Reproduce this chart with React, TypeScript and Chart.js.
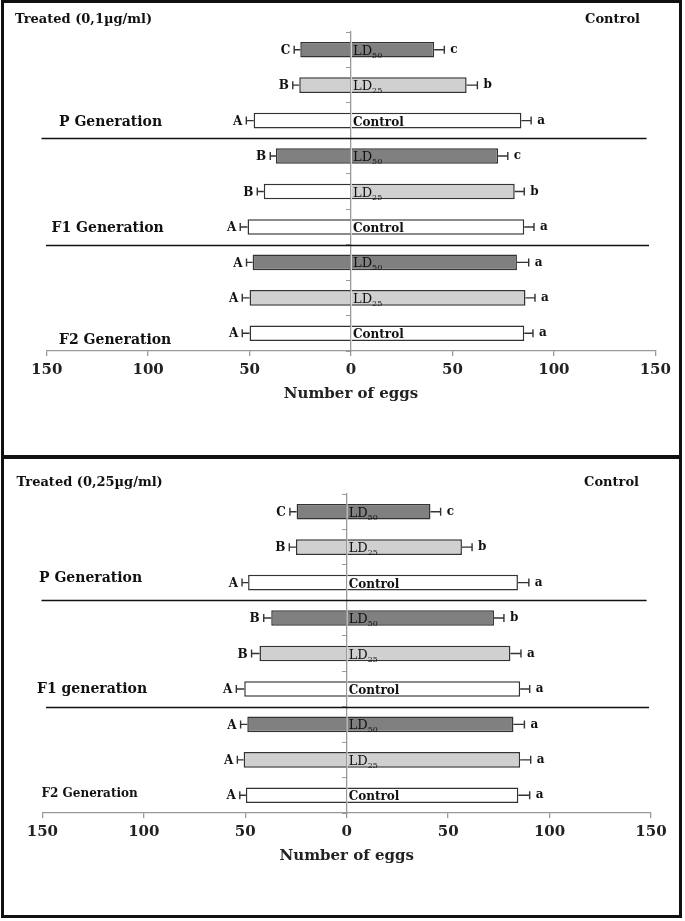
import React, { useEffect, useRef } from 'react';
import { Chart, registerables } from 'chart.js';
Chart.register(...registerables);

// ---------- data ----------
const rowLabels = ['LD50', 'LD25', 'Control', 'LD50', 'LD25', 'Control', 'LD50', 'LD25', 'Control'];
const xTickValues = [-150, -100, -50, 0, 50, 100, 150];
const axisTitle = 'Number of eggs';

// Panel 1 (0,1 µg/ml)
const p1Title = 'Treated (0,1µg/ml)';
const p1Generations = ['P Generation', 'F1 Generation', 'F2 Generation'];
const p1Treated = [25, 25.5, 48, 37, 43, 51, 48.5, 50, 50];
const p1TreatedErr = [3, 3.2, 3.6, 2.8, 3.2, 3.6, 3, 3.6, 3.6];
const p1Control = [41, 57, 84, 72.5, 80.7, 85.4, 81.8, 86, 85.4];
const p1ControlErr = [5, 5.3, 4.8, 4.8, 4.7, 4.8, 5.8, 4.7, 4.3];
const p1TreatedLetters = ['C', 'B', 'A', 'B', 'B', 'A', 'A', 'A', 'A'];
const p1ControlLetters = ['c', 'b', 'a', 'c', 'b', 'a', 'a', 'a', 'a'];

// Panel 2 (0,25 µg/ml)
const p2Title = 'Treated (0,25µg/ml)';
const p2Generations = ['P Generation', 'F1 generation', 'F2 Generation'];
const p2Treated = [24.7, 25, 48.6, 37.2, 43, 50.5, 49, 50.8, 49.7];
const p2TreatedErr = [3.3, 3.3, 3, 3.7, 3.9, 3.9, 3.3, 3.1, 3];
const p2Control = [41.3, 56.8, 84.4, 72.6, 80.7, 85.5, 82.2, 85.5, 84.6];
const p2ControlErr = [5, 5, 5.4, 4.9, 5.2, 4.7, 5.4, 5.2, 5.6];
const p2TreatedLetters = ['C', 'B', 'A', 'B', 'B', 'A', 'A', 'A', 'A'];
const p2ControlLetters = ['c', 'b', 'a', 'b', 'a', 'a', 'a', 'a', 'a'];

// ---------- styles ----------
const FONT = '"DejaVu Serif", "Liberation Serif", serif';
const fillFor: Record<string, string> = { LD50: '#808080', LD25: '#d0d0d0', Control: '#ffffff' };
const p1TreatedFill = rowLabels.map((l, i) => (i === 4 ? '#ffffff' : fillFor[l]));
const p1ControlFill = rowLabels.map((l) => fillFor[l]);
const p2TreatedFill = rowLabels.map((l) => fillFor[l]);
const p2ControlFill = rowLabels.map((l) => fillFor[l]);

type PanelProps = {
  title: string;
  generations: string[];
  treated: number[];
  treatedErr: number[];
  control: number[];
  controlErr: number[];
  treatedLetters: string[];
  controlLetters: string[];
  treatedFill: string[];
  controlFill: string[];
  box: { left: number; top: number; width: number; height: number };
  padding: { left: number; right: number; top: number; bottom: number };
  genPos: { x: number; dy: number; size: number }[];
  titleY: number;
  controlRight: number;
  titleX: number;
};

const overlayPlugin = {
  id: 'overlay',
  afterDatasetsDraw(chart: any, _args: any, opts: any) {
    const ctx = chart.ctx;
    const xs = chart.scales.x;
    const ys = chart.scales.y;
    const p: PanelProps = opts.panel;
    ctx.save();
    const x0 = xs.getPixelForValue(0);
    // error bars and letters
    for (let i = 0; i < p.treated.length; i++) {
      const yc = ys.getPixelForValue(i);
      ctx.strokeStyle = '#333';
      ctx.lineWidth = 1.4;
      // left
      const lb = xs.getPixelForValue(-p.treated[i]);
      const le = xs.getPixelForValue(-(p.treated[i] + p.treatedErr[i]));
      ctx.beginPath();
      ctx.moveTo(lb, yc);
      ctx.lineTo(le, yc);
      ctx.moveTo(le, yc - 4);
      ctx.lineTo(le, yc + 4);
      ctx.stroke();
      // right
      const rb = xs.getPixelForValue(p.control[i]);
      const re = xs.getPixelForValue(p.control[i] + p.controlErr[i]);
      ctx.beginPath();
      ctx.moveTo(rb, yc);
      ctx.lineTo(re, yc);
      ctx.moveTo(re, yc - 4);
      ctx.lineTo(re, yc + 4);
      ctx.stroke();
      // letters
      ctx.fillStyle = '#111';
      ctx.font = `bold 12px ${FONT}`;
      ctx.textBaseline = 'middle';
      ctx.textAlign = 'right';
      ctx.fillText(p.treatedLetters[i], le - 4, yc + 1);
      ctx.textAlign = 'left';
      ctx.fillText(p.controlLetters[i], re + 6, yc);
      // inner label
      ctx.textBaseline = 'alphabetic';
      ctx.textAlign = 'left';
      const lab = rowLabels[i];
      const base = yc + 5;
      if (lab.startsWith('LD')) {
        ctx.font = `13px ${FONT}`;
        ctx.fillText('LD', x0 + 2, base);
        const w = ctx.measureText('LD').width;
        ctx.font = `8px ${FONT}`;
        ctx.fillText(lab.slice(2), x0 + 2 + w, base + 3);
      } else {
        ctx.font = `bold 12px ${FONT}`;
        ctx.fillText(lab, x0 + 2, base);
      }
    }
    // separators
    ctx.strokeStyle = '#111';
    ctx.lineWidth = 1.3;
    const seps = [
      { idx: 2.5, x1: 37.5, x2: 642.6 },
      { idx: 5.5, x1: 42, x2: 645 },
    ];
    for (const s of seps) {
      const y = (ys.getPixelForValue(Math.floor(s.idx)) + ys.getPixelForValue(Math.ceil(s.idx))) / 2;
      ctx.beginPath();
      ctx.moveTo(s.x1, Math.round(y) + 0.5);
      ctx.lineTo(s.x2, Math.round(y) + 0.5);
      ctx.stroke();
    }
    // generation labels
    ctx.fillStyle = '#111';
    ctx.textBaseline = 'middle';
    ctx.textAlign = 'left';
    p.generations.forEach((g, k) => {
      const gp = p.genPos[k];
      const y = ys.getPixelForValue(k * 3 + 2) + gp.dy;
      ctx.font = `bold ${gp.size}px ${FONT}`;
      ctx.fillText(g, gp.x, y);
    });
    // titles
    ctx.font = `bold 13px ${FONT}`;
    ctx.textAlign = 'left';
    ctx.fillText(p.title, p.titleX, p.titleY);
    ctx.textAlign = 'right';
    ctx.fillText('Control', p.controlRight, p.titleY);
    ctx.restore();
  },
};

function Panel(props: PanelProps) {
  const ref = useRef<HTMLCanvasElement | null>(null);
  useEffect(() => {
    if (!ref.current) return;
    const chart = new Chart(ref.current, {
      type: 'bar',
      data: {
        labels: rowLabels,
        datasets: [
          {
            label: 'Treated',
            data: props.treated.map((v) => -v),
            backgroundColor: props.treatedFill,
            borderColor: '#333',
            borderWidth: 1.5,
            barPercentage: 0.44,
            categoryPercentage: 1,
          },
          {
            label: 'Control',
            data: props.control,
            backgroundColor: props.controlFill,
            borderColor: '#333',
            borderWidth: 1.5,
            barPercentage: 0.44,
            categoryPercentage: 1,
          },
        ],
      },
      options: {
        indexAxis: 'y',
        animation: false,
        responsive: false,
        maintainAspectRatio: false,
        layout: { padding: props.padding },
        plugins: {
          legend: { display: false },
          tooltip: { enabled: false },
          overlay: { panel: props },
        } as any,
        scales: {
          x: {
            type: 'linear',
            stacked: true,
            min: -150,
            max: 150,
            afterBuildTicks: (scale: any) => {
              scale.ticks = xTickValues.map((v) => ({ value: v }));
            },
            ticks: {
              callback: (v: any) => String(Math.abs(Number(v))),
              font: { family: FONT, size: 15, weight: 'bold' },
              color: '#222',
              padding: 5,
            },
            grid: { drawOnChartArea: false, drawTicks: true, tickLength: 5, color: '#999', lineWidth: 1.3 },
            border: { display: true, color: '#999', width: 1.3 },
            title: {
              display: true,
              text: axisTitle,
              font: { family: FONT, size: 15, weight: 'bold' },
              color: '#222',
              padding: { top: 1, bottom: 0 },
            },
          },
          y: {
            type: 'category',
            stacked: true,
            position: { x: 0 } as any,
            ticks: { display: false },
            grid: { drawOnChartArea: false, drawTicks: true, tickLength: 4, color: '#999', offset: true },
            border: { display: true, color: '#999', width: 1.3 },
          },
        },
      },
      plugins: [overlayPlugin],
    } as any);
    return () => chart.destroy();
  }, []);
  const b = props.box;
  return (
    <div
      style={{
        position: 'absolute',
        left: b.left,
        top: b.top,
        width: b.width,
        height: b.height,
        border: '3px solid #111',
        boxSizing: 'border-box',
        background: '#fff',
      }}
    >
      <canvas ref={ref} width={b.width - 6} height={b.height - 6} style={{ display: 'block' }} />
    </div>
  );
}

export default function App() {
  return (
    <div style={{ position: 'absolute', left: 0, top: 0, width: 685, height: 921, background: '#fff' }}>
      <Panel
        title={p1Title}
        generations={p1Generations}
        treated={p1Treated}
        treatedErr={p1TreatedErr}
        control={p1Control}
        controlErr={p1ControlErr}
        treatedLetters={p1TreatedLetters}
        controlLetters={p1ControlLetters}
        treatedFill={p1TreatedFill}
        controlFill={p1ControlFill}
        box={{ left: 1, top: 0, width: 681, height: 458 }}
        padding={{ left: 42.7, right: 23.7, top: 29, bottom: 52 }}
        genPos={[
          { x: 55, dy: 2, size: 14 },
          { x: 47.5, dy: 1, size: 14 },
          { x: 55, dy: 7, size: 14 },
        ]}
        titleX={11}
        titleY={17}
        controlRight={636}
      />
      <Panel
        title={p2Title}
        generations={p2Generations}
        treated={p2Treated}
        treatedErr={p2TreatedErr}
        control={p2Control}
        controlErr={p2ControlErr}
        treatedLetters={p2TreatedLetters}
        controlLetters={p2ControlLetters}
        treatedFill={p2TreatedFill}
        controlFill={p2ControlFill}
        box={{ left: 1, top: 456, width: 681, height: 462 }}
        padding={{ left: 38.4, right: 28, top: 35, bottom: 50 }}
        genPos={[
          { x: 35, dy: -4, size: 14 },
          { x: 33, dy: 0, size: 14 },
          { x: 37.5, dy: -1, size: 12 },
        ]}
        titleX={12.6}
        titleY={24}
        controlRight={635}
      />
    </div>
  );
}
